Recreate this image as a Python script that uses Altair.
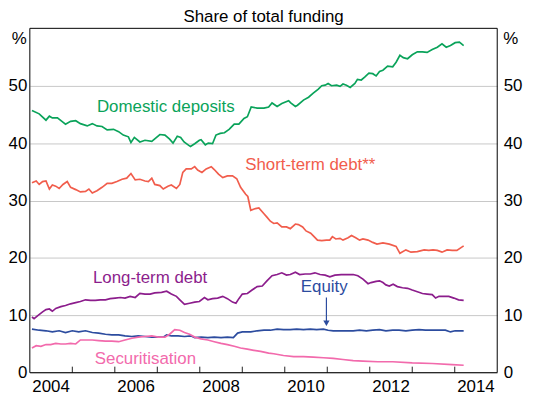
import altair as alt
import pandas as pd

# (decimal year, % share)
deposits = [
    (2004.05, 45.7), (2004.22, 45.1), (2004.38, 44.0), (2004.46, 44.7), (2004.53, 44.4), (2004.65, 44.4),
    (2004.77, 43.7), (2004.84, 43.3), (2004.96, 43.8), (2005.08, 43.9), (2005.19, 43.4), (2005.35, 43.0),
    (2005.47, 43.4), (2005.58, 43.0), (2005.70, 42.9), (2005.82, 42.3), (2005.97, 42.4), (2006.09, 42.0),
    (2006.20, 41.4), (2006.32, 41.1), (2006.38, 40.1), (2006.46, 41.0), (2006.59, 40.2), (2006.71, 40.5),
    (2006.87, 40.3), (2007.06, 41.5), (2007.18, 41.4), (2007.29, 40.7), (2007.37, 40.0), (2007.47, 41.2),
    (2007.55, 41.0), (2007.63, 40.2), (2007.78, 39.4), (2007.88, 39.9), (2007.99, 40.5), (2008.03, 40.6),
    (2008.13, 39.7), (2008.20, 40.0), (2008.30, 39.9), (2008.38, 41.4), (2008.48, 41.7), (2008.58, 41.8),
    (2008.69, 42.4), (2008.81, 43.3), (2008.92, 43.3), (2009.04, 44.3), (2009.12, 44.6), (2009.21, 46.3),
    (2009.35, 46.1), (2009.51, 46.1), (2009.62, 46.3), (2009.70, 47.0), (2009.82, 46.4), (2009.93, 46.9),
    (2010.09, 47.4), (2010.14, 47.0), (2010.25, 46.4), (2010.30, 46.6), (2010.44, 47.5), (2010.56, 48.0),
    (2010.67, 48.7), (2010.79, 49.4), (2010.87, 50.0), (2010.95, 50.1), (2011.02, 50.4), (2011.10, 50.0),
    (2011.22, 50.1), (2011.30, 49.9), (2011.37, 50.3), (2011.45, 50.1), (2011.54, 49.7), (2011.65, 50.4),
    (2011.71, 51.1), (2011.80, 51.0), (2011.88, 51.5), (2011.98, 52.2), (2012.07, 52.1), (2012.15, 51.7),
    (2012.23, 52.5), (2012.31, 52.7), (2012.42, 53.4), (2012.54, 53.3), (2012.62, 54.1), (2012.71, 55.3),
    (2012.79, 54.9), (2012.89, 54.7), (2013.00, 55.4), (2013.12, 55.9), (2013.24, 55.9), (2013.35, 55.8),
    (2013.47, 56.3), (2013.59, 56.7), (2013.70, 57.3), (2013.80, 56.7), (2013.90, 57.0), (2014.01, 57.5),
    (2014.11, 57.6), (2014.21, 57.0),
]

short_term = [
    (2004.05, 33.1), (2004.15, 33.4), (2004.22, 32.8), (2004.30, 33.3), (2004.38, 33.4), (2004.46, 32.0),
    (2004.53, 32.7), (2004.61, 32.5), (2004.69, 32.1), (2004.78, 32.8), (2004.88, 33.3), (2004.96, 32.3),
    (2005.08, 31.9), (2005.19, 31.5), (2005.31, 31.6), (2005.39, 32.0), (2005.47, 31.3), (2005.58, 31.7),
    (2005.70, 32.3), (2005.82, 33.0), (2005.93, 33.0), (2006.05, 33.3), (2006.17, 33.7), (2006.28, 33.9),
    (2006.38, 34.7), (2006.48, 33.6), (2006.59, 33.7), (2006.71, 33.4), (2006.79, 33.3), (2006.87, 33.9),
    (2006.94, 32.8), (2007.06, 32.6), (2007.14, 32.0), (2007.25, 32.5), (2007.33, 32.7), (2007.45, 32.1),
    (2007.53, 32.8), (2007.60, 34.9), (2007.68, 35.5), (2007.80, 35.5), (2007.88, 35.9), (2007.95, 35.3),
    (2008.05, 34.9), (2008.15, 35.5), (2008.27, 35.9), (2008.34, 35.4), (2008.44, 34.6), (2008.54, 34.0),
    (2008.65, 34.3), (2008.77, 34.3), (2008.87, 33.8), (2008.96, 32.3), (2009.08, 31.1), (2009.13, 30.7),
    (2009.20, 28.3), (2009.31, 28.6), (2009.39, 28.7), (2009.51, 27.7), (2009.58, 27.1), (2009.66, 26.4),
    (2009.74, 26.0), (2009.82, 26.1), (2009.93, 25.4), (2010.04, 25.4), (2010.13, 25.1), (2010.25, 25.9),
    (2010.32, 25.8), (2010.42, 25.4), (2010.50, 24.7), (2010.61, 24.3), (2010.69, 23.7), (2010.77, 23.1),
    (2010.87, 23.0), (2010.98, 23.1), (2011.06, 23.1), (2011.12, 23.7), (2011.20, 23.3), (2011.30, 23.4),
    (2011.37, 23.1), (2011.49, 23.5), (2011.57, 23.9), (2011.67, 23.5), (2011.76, 23.1), (2011.84, 23.3),
    (2011.96, 23.1), (2012.07, 22.7), (2012.17, 22.4), (2012.31, 22.6), (2012.46, 22.4), (2012.62, 22.0),
    (2012.71, 20.8), (2012.85, 21.4), (2012.97, 21.0), (2013.12, 21.1), (2013.28, 21.4), (2013.39, 21.3),
    (2013.49, 21.4), (2013.59, 21.3), (2013.70, 21.0), (2013.82, 21.4), (2013.94, 21.3), (2014.05, 21.3),
    (2014.21, 22.1),
]

long_term = [
    (2004.05, 9.7), (2004.10, 9.4), (2004.18, 9.9), (2004.30, 10.6), (2004.38, 11.0), (2004.46, 11.1),
    (2004.53, 10.7), (2004.61, 11.2), (2004.73, 11.5), (2004.84, 11.7), (2004.96, 12.0), (2005.08, 12.2),
    (2005.19, 12.4), (2005.31, 12.7), (2005.43, 12.6), (2005.54, 12.6), (2005.66, 12.7), (2005.78, 12.7),
    (2005.89, 12.9), (2006.01, 13.0), (2006.13, 13.1), (2006.24, 13.0), (2006.36, 13.3), (2006.48, 13.1),
    (2006.59, 13.8), (2006.71, 13.7), (2006.83, 13.7), (2006.94, 13.9), (2007.10, 14.0), (2007.22, 14.2),
    (2007.33, 13.7), (2007.45, 13.3), (2007.53, 12.7), (2007.64, 11.9), (2007.76, 12.1), (2007.88, 12.3),
    (2007.99, 12.4), (2008.11, 13.1), (2008.19, 12.7), (2008.30, 12.9), (2008.42, 13.0), (2008.54, 13.3),
    (2008.65, 12.9), (2008.77, 12.3), (2008.85, 12.1), (2008.92, 12.9), (2009.00, 13.7), (2009.12, 13.8),
    (2009.23, 14.4), (2009.35, 15.0), (2009.47, 15.1), (2009.58, 16.0), (2009.70, 16.9), (2009.82, 17.1),
    (2009.93, 17.4), (2010.04, 17.0), (2010.13, 17.1), (2010.25, 17.5), (2010.35, 17.1), (2010.48, 17.2),
    (2010.60, 17.2), (2010.71, 17.4), (2010.83, 17.1), (2010.95, 17.0), (2011.06, 16.7), (2011.18, 17.0),
    (2011.33, 17.1), (2011.49, 17.1), (2011.61, 17.1), (2011.72, 16.9), (2011.84, 16.3), (2011.96, 15.5),
    (2012.03, 15.7), (2012.15, 15.9), (2012.23, 16.0), (2012.31, 15.7), (2012.38, 15.3), (2012.46, 15.1),
    (2012.55, 15.4), (2012.65, 15.0), (2012.77, 14.8), (2012.89, 14.7), (2013.00, 14.4), (2013.12, 14.1),
    (2013.24, 13.8), (2013.35, 13.7), (2013.47, 13.6), (2013.55, 13.0), (2013.63, 13.3), (2013.74, 13.3),
    (2013.86, 13.3), (2013.98, 13.0), (2014.09, 12.7), (2014.21, 12.6),
]

equity = [
    (2004.05, 7.6), (2004.22, 7.4), (2004.38, 7.3), (2004.53, 7.1), (2004.69, 7.3), (2004.84, 7.0),
    (2005.00, 7.3), (2005.15, 7.1), (2005.31, 7.3), (2005.47, 7.0), (2005.62, 6.9), (2005.78, 6.7),
    (2005.93, 6.6), (2006.09, 6.6), (2006.24, 6.4), (2006.40, 6.3), (2006.55, 6.4), (2006.71, 6.3),
    (2006.87, 6.2), (2007.02, 6.2), (2007.14, 6.2), (2007.22, 6.6), (2007.33, 6.4), (2007.49, 6.4),
    (2007.64, 6.3), (2007.80, 6.4), (2007.88, 6.1), (2008.03, 6.2), (2008.19, 6.1), (2008.34, 6.2),
    (2008.50, 6.1), (2008.65, 6.2), (2008.79, 6.1), (2008.89, 6.9), (2009.00, 7.1), (2009.20, 7.1),
    (2009.35, 7.3), (2009.51, 7.4), (2009.66, 7.4), (2009.82, 7.6), (2009.97, 7.5), (2010.13, 7.5),
    (2010.28, 7.6), (2010.44, 7.5), (2010.60, 7.6), (2010.75, 7.5), (2010.91, 7.6), (2011.02, 7.4),
    (2011.14, 7.3), (2011.30, 7.3), (2011.45, 7.3), (2011.61, 7.3), (2011.76, 7.4), (2011.92, 7.3),
    (2012.07, 7.4), (2012.23, 7.5), (2012.38, 7.3), (2012.54, 7.4), (2012.69, 7.4), (2012.85, 7.3),
    (2013.00, 7.4), (2013.16, 7.5), (2013.31, 7.4), (2013.47, 7.4), (2013.63, 7.4), (2013.78, 7.4),
    (2013.90, 7.1), (2014.01, 7.3), (2014.21, 7.3),
]

securitisation = [
    (2004.05, 4.3), (2004.15, 4.7), (2004.26, 4.6), (2004.38, 4.9), (2004.49, 4.9), (2004.61, 5.1),
    (2004.73, 5.0), (2004.84, 5.0), (2004.96, 5.1), (2005.08, 5.0), (2005.19, 5.7), (2005.31, 5.7),
    (2005.47, 5.7), (2005.62, 5.6), (2005.78, 5.5), (2005.93, 5.5), (2006.09, 5.4), (2006.24, 5.7),
    (2006.40, 6.0), (2006.55, 6.2), (2006.71, 6.3), (2006.87, 6.4), (2007.02, 6.2), (2007.18, 6.2),
    (2007.29, 6.7), (2007.41, 7.5), (2007.53, 7.4), (2007.64, 7.0), (2007.76, 6.7), (2007.88, 6.2),
    (2008.03, 5.9), (2008.19, 5.7), (2008.34, 5.4), (2008.50, 5.1), (2008.65, 4.9), (2008.81, 4.6),
    (2008.96, 4.3), (2009.12, 4.1), (2009.27, 3.9), (2009.43, 3.7), (2009.62, 3.4), (2009.74, 3.3),
    (2009.97, 3.0), (2010.21, 2.8), (2010.44, 2.8), (2010.67, 2.7), (2010.91, 2.6), (2011.14, 2.5),
    (2011.37, 2.3), (2011.61, 2.1), (2011.84, 2.0), (2012.19, 1.9), (2012.54, 1.9), (2013.00, 1.7),
    (2013.47, 1.6), (2013.94, 1.4), (2014.21, 1.3),
]

series_names = ["Domestic deposits", "Short-term debt**", "Long-term debt", "Equity", "Securitisation"]
series_colors = ["#0aa35a", "#f15d4c", "#8c1d8c", "#2c4c9f", "#f26aac"]
series_data = [deposits, short_term, long_term, equity, securitisation]

label_x = [2007.2, 2010.6, 2006.83, 2010.93, 2006.72]
label_y = [46.3, 36.1, 16.5, 14.85, 2.3]

tick_years = [2005, 2006, 2007, 2008, 2009, 2010, 2011, 2012, 2013, 2014]
label_years = [2004.5, 2006.5, 2008.5, 2010.5, 2012.5, 2014.5]
label_texts = ["2004", "2006", "2008", "2010", "2012", "2014"]
y_ticks = [0, 10, 20, 30, 40, 50]

arrow_x = 2010.98
arrow_top = 13.1
arrow_bottom = 8.6
arrow_tip = 8.6

TITLE = "Share of total funding"

W, H = 471, 347

rows = []
for name, data in zip(series_names, series_data):
    for yr, v in data:
        rows.append({"series": name, "year": yr, "value": v})
df = pd.DataFrame(rows)

labels_df = pd.DataFrame({"series": series_names, "x": label_x, "y": label_y})
ticks_df = pd.DataFrame({"year": tick_years, "y0": [0] * len(tick_years), "y1": [1.05] * len(tick_years)})
xlab_df = pd.DataFrame({"year": label_years, "txt": label_texts})

FONT = "Liberation Sans"
x_scale = alt.Scale(domain=[2004, 2015], nice=False, zero=False)
y_scale = alt.Scale(domain=[0, 60], nice=False, zero=False)
color_scale = alt.Scale(domain=series_names, range=series_colors)

lines = alt.Chart(df).mark_line(strokeWidth=1.7).encode(
    x=alt.X("year:Q", scale=x_scale, axis=None),
    y=alt.Y("value:Q", scale=y_scale,
            axis=alt.Axis(orient="left", values=y_ticks, ticks=False, domain=False, grid=True,
                          gridColor="#c8c8c8", gridWidth=1, labelPadding=3, title=None,
                          labelFontSize=17, labelFont=FONT, labelColor="#000")),
    color=alt.Color("series:N", scale=color_scale, legend=None),
    order=alt.Order("year:Q"),
)

ticks = alt.Chart(ticks_df).mark_rule(color="#222", strokeWidth=1).encode(
    x=alt.X("year:Q", scale=x_scale, axis=None),
    y=alt.Y("y0:Q", scale=y_scale,
            axis=alt.Axis(orient="right", values=y_ticks, ticks=False, domain=False, grid=False,
                          labelPadding=6, title=None, labelFontSize=17, labelFont=FONT,
                          labelColor="#000")),
    y2="y1:Q",
)

xlabels = alt.Chart(xlab_df).mark_text(fontSize=17, font=FONT, align="center", baseline="top",
                                       color="#000", dy=0).encode(
    x=alt.X("year:Q", scale=x_scale, axis=None),
    y=alt.value(H + 6),
    text="txt:N",
)

text = alt.Chart(labels_df).mark_text(fontSize=17, font=FONT, align="center", baseline="middle").encode(
    x=alt.X("x:Q", scale=x_scale, axis=None),
    y=alt.Y("y:Q", scale=y_scale, axis=None),
    text="series:N",
    color=alt.Color("series:N", scale=color_scale, legend=None),
)

arrow_df = pd.DataFrame({"x": [arrow_x], "top": [arrow_top], "bottom": [arrow_bottom], "tip": [arrow_tip]})
arrow_line = alt.Chart(arrow_df).mark_rule(color="#2c4c9f", strokeWidth=1.2).encode(
    x=alt.X("x:Q", scale=x_scale, axis=None),
    y=alt.Y("top:Q", scale=y_scale, axis=None),
    y2="bottom:Q",
)
arrow_head = alt.Chart(arrow_df).mark_point(shape="triangle-down", filled=True, size=40,
                                            color="#2c4c9f", opacity=1).encode(
    x=alt.X("x:Q", scale=x_scale, axis=None),
    y=alt.Y("tip:Q", scale=y_scale, axis=None),
)

one = pd.DataFrame({"t": ["%"], "title": [TITLE]})
pct_left = alt.Chart(one).mark_text(fontSize=17, font=FONT, align="right", baseline="middle",
                                    color="#000").encode(
    x=alt.value(-3), y=alt.value(11), text="t:N")
pct_right = alt.Chart(one).mark_text(fontSize=17, font=FONT, align="left", baseline="middle",
                                     color="#000").encode(
    x=alt.value(W + 6), y=alt.value(11), text="t:N")
title = alt.Chart(one).mark_text(fontSize=17, font=FONT, align="center", baseline="alphabetic",
                                 color="#000").encode(
    x=alt.value(W / 2), y=alt.value(-6), text="title:N")

frame = alt.Chart(one).mark_rect(fill=None, stroke="#000", strokeWidth=1).encode(
    x=alt.value(0), x2=alt.value(W), y=alt.value(0), y2=alt.value(H))

chart = alt.layer(lines, ticks, xlabels, text, arrow_line, arrow_head, pct_left, pct_right,
                  title, frame).resolve_scale(
    x="shared", y="shared"
).resolve_axis(y="independent").properties(
    width=W,
    height=H,
    padding={"left": 22, "top": 19, "right": 30, "bottom": 22},
    autosize=alt.AutoSizeParams(type="none"),
).configure_view(stroke=None)

chart.save("out.html", embed_options={"renderer": "svg", "actions": False})
